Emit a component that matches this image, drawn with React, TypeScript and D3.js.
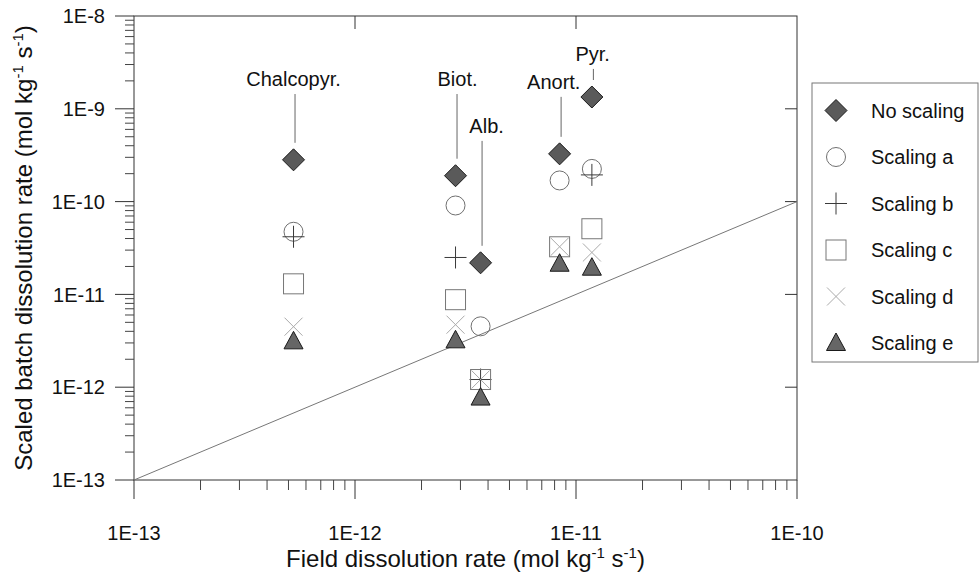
import React from 'react';
import * as d3 from 'd3';

// mineral columns (field rate on x)
const minerals = ['Chalcopyr.', 'Biot.', 'Alb.', 'Anort.', 'Pyr.'];
const fieldRate = [5.27e-13, 2.85e-12, 3.7e-12, 8.43e-12, 1.18e-11];

// scaled batch rates per series (null = not plotted)
const noScaling = [2.82e-10, 1.9e-10, 2.19e-11, 3.27e-10, 1.34e-9];
const scalingA = [4.73e-11, 9.08e-11, 4.53e-12, 1.69e-10, 2.25e-10];
const scalingB = [4.18e-11, 2.5e-11, 1.21e-12, null, 1.94e-10];
const scalingC = [1.3e-11, 8.77e-12, 1.21e-12, 3.26e-11, 5.1e-11];
const scalingD = [4.49e-12, 4.72e-12, 1.21e-12, 3.26e-11, 2.83e-11];
const scalingE = [3.12e-12, 3.2e-12, 7.73e-13, 2.14e-11, 1.94e-11];

// label placement (in data units)
const labelX = [5.27e-13, 2.91e-12, 3.94e-12, 7.93e-12, 1.19e-11];
const labelY = [1.76e-9, 1.76e-9, 5.5e-10, 1.64e-9, 3.28e-9];

const xTicks = [1e-13, 1e-12, 1e-11, 1e-10];
const yTicks = [1e-8, 1e-9, 1e-10, 1e-11, 1e-12, 1e-13];
const fmt = (v: number) => `1E${Math.round(Math.log10(v))}`;

const FONT = '"Liberation Sans", Arial, sans-serif';

type Shape = 'diamond' | 'circle' | 'plus' | 'square' | 'cross' | 'triangle';

const series: { name: string; shape: Shape; values: (number | null)[] }[] = [
  { name: 'No scaling', shape: 'diamond', values: noScaling },
  { name: 'Scaling a', shape: 'circle', values: scalingA },
  { name: 'Scaling b', shape: 'plus', values: scalingB },
  { name: 'Scaling c', shape: 'square', values: scalingC },
  { name: 'Scaling d', shape: 'cross', values: scalingD },
  { name: 'Scaling e', shape: 'triangle', values: scalingE },
];

const Marker = ({ shape, x, y }: { shape: Shape; x: number; y: number }) => {
  const t = `translate(${x},${y})`;
  switch (shape) {
    case 'diamond':
      return <path transform={t} d="M0,-11L11,0L0,11L-11,0Z" fill="#5a5a5a" stroke="#1a1a1a" strokeWidth={1} />;
    case 'circle':
      return <circle transform={t} r={9.5} fill="none" stroke="#707070" strokeWidth={1} />;
    case 'plus':
      return <path transform={t} d="M-11,0H11M0,-11V11" stroke="#3a3a3a" strokeWidth={1} fill="none" />;
    case 'square':
      return <rect transform={t} x={-10} y={-10} width={20} height={20} fill="none" stroke="#777" strokeWidth={1} />;
    case 'cross':
      return <path transform={t} d="M-9,-9L9,9M9,-9L-9,9" stroke="#aaa" strokeWidth={1} fill="none" />;
    case 'triangle':
      return <path transform={t} d="M0,-10L9.5,7.5L-9.5,7.5Z" fill="#666" stroke="#1a1a1a" strokeWidth={1} />;
  }
};

const App = () => {
  const width = 980;
  const height = 572;
  const left = 134, right = 797, top = 16, bottom = 480;

  const x = d3.scaleLog().domain([1e-13, 1e-10]).range([left, right]);
  const y = d3.scaleLog().domain([1e-13, 1e-8]).range([bottom, top]);

  const xMinor = x.ticks().filter((v) => !xTicks.some((t) => Math.abs(t - v) / t < 1e-6));
  const yMinor = y.ticks().filter((v) => !yTicks.some((t) => Math.abs(t - v) / t < 1e-6));

  const legendTop = 83, legendLeft = 812, legendRight = 978, legendBottom = 362;
  const legendStep = 46.5;

  return (
    <div style={{ position: 'absolute', left: 0, top: 0 }}>
      <svg width={width} height={height} style={{ display: 'block', background: '#fff' }} fontFamily={FONT}>
        {/* frame */}
        <rect x={left} y={top} width={right - left} height={bottom - top} fill="none" stroke="#333" strokeWidth={1} />

        {/* left axis ticks */}
        {yTicks.map((t) => (
          <g key={'yt' + t}>
            <line x1={left - 19} x2={left} y1={y(t)} y2={y(t)} stroke="#333" />
            <text x={left - 29} y={y(t)} dy="0.36em" textAnchor="end" fontSize={20} fill="#111">{fmt(t)}</text>
          </g>
        ))}
        {yMinor.map((t) => (
          <line key={'ym' + t} x1={left - 9} x2={left} y1={y(t)} y2={y(t)} stroke="#444" />
        ))}
        {/* right axis inward ticks */}
        {yTicks.slice(1, -1).map((t) => (
          <line key={'yr' + t} x1={right - 12} x2={right} y1={y(t)} y2={y(t)} stroke="#333" />
        ))}

        {/* bottom axis ticks */}
        {xTicks.map((t) => (
          <g key={'xt' + t}>
            <line x1={x(t)} x2={x(t)} y1={bottom} y2={bottom + 19} stroke="#333" />
            <text x={x(t)} y={bottom + 60} textAnchor="middle" fontSize={20} fill="#111">{fmt(t)}</text>
          </g>
        ))}
        {xMinor.map((t) => (
          <line key={'xm' + t} x1={x(t)} x2={x(t)} y1={bottom} y2={bottom + 10} stroke="#444" />
        ))}
        {/* top axis inward ticks */}
        {xTicks.slice(1, -1).map((t) => (
          <line key={'xtop' + t} x1={x(t)} x2={x(t)} y1={top} y2={top + 13} stroke="#333" />
        ))}

        {/* 1:1 line */}
        <line x1={x(1e-13)} y1={y(1e-13)} x2={x(1e-10)} y2={y(1e-10)} stroke="#777" strokeWidth={1} />

        {/* mineral labels with leader lines */}
        {minerals.map((m, i) => {
          const ly = y(labelY[i]);
          const dy = y(noScaling[i]);
          return (
            <g key={m}>
              <text x={x(labelX[i])} y={ly} textAnchor="middle" fontSize={20} fill="#111">{m}</text>
              <line x1={x(fieldRate[i]) + 1.5} x2={x(fieldRate[i]) + 1.5} y1={ly + 8} y2={dy - 17} stroke="#666" />
            </g>
          );
        })}

        {/* markers */}
        {[...series.slice(1), series[0]].map((s) =>
          s.values.map((v, i) =>
            v == null ? null : <Marker key={s.name + i} shape={s.shape} x={x(fieldRate[i])} y={y(v)} />
          )
        )}

        {/* legend */}
        <rect x={legendLeft} y={legendTop} width={legendRight - legendLeft} height={legendBottom - legendTop} fill="#fff" stroke="#777" />
        {series.map((s, i) => {
          const ly = legendTop + 27.5 + i * legendStep;
          return (
            <g key={'lg' + s.name}>
              <Marker shape={s.shape} x={836} y={ly} />
              <text x={871} y={ly} dy="0.36em" fontSize={20} fill="#111">{s.name}</text>
            </g>
          );
        })}

        {/* axis titles */}
        <text x={(left + right) / 2} y={567} textAnchor="middle" fontSize={24} fill="#111">
          Field dissolution rate (mol kg<tspan dy={-9} fontSize={15}>-1</tspan>
          <tspan dy={9}> s</tspan><tspan dy={-9} fontSize={15}>-1</tspan><tspan dy={9}>)</tspan>
        </text>
        <text transform={`translate(32,${(top + bottom) / 2}) rotate(-90)`} textAnchor="middle" fontSize={24} fill="#111">
          Scaled batch dissolution rate (mol kg<tspan dy={-9} fontSize={15}>-1</tspan>
          <tspan dy={9}> s</tspan><tspan dy={-9} fontSize={15}>-1</tspan><tspan dy={9}>)</tspan>
        </text>
      </svg>
    </div>
  );
};

export default App;
